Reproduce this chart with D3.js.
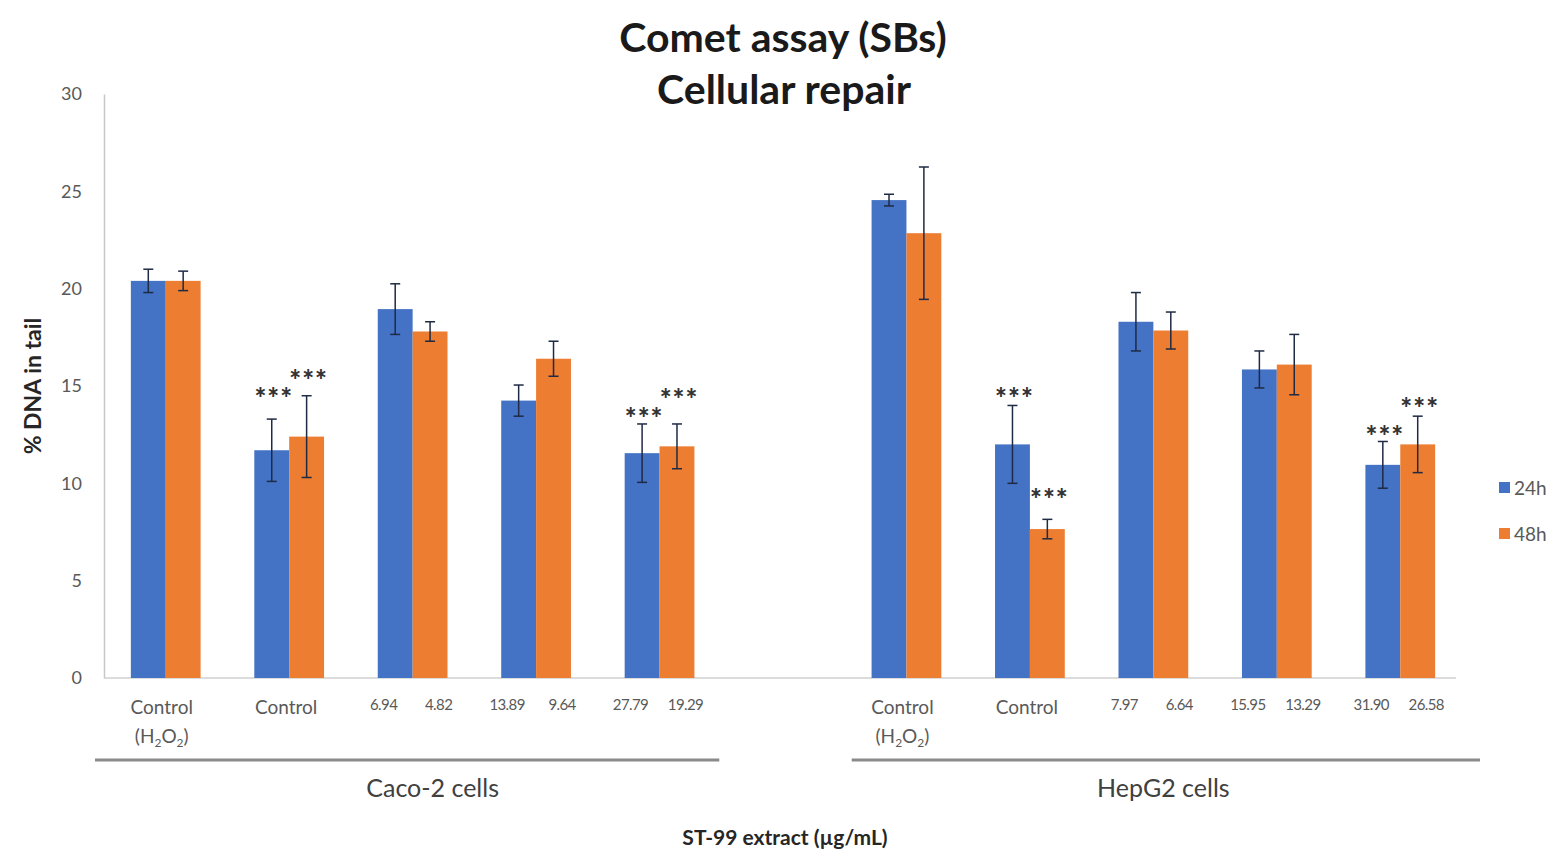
<!DOCTYPE html>
<html>
<head>
<meta charset="utf-8">
<script src="https://cdn.jsdelivr.net/npm/d3@7/dist/d3.min.js"></script>
<style>
  html, body { margin: 0; padding: 0; background: #fff; }
  svg { display: block; font-family: Lato, "Open Sans", sans-serif; }
</style>
</head>
<body>
<svg id="chart" width="1564" height="862"></svg>
<script>
// ---- data ----
const groups = ["Caco-2 cells", "HepG2 cells"];
const series = ["24h", "48h"];
const yTicks = [0, 5, 10, 15, 20, 25, 30];

// category kinds inside each group: two controls, then three doses
const categoryKinds = ["ctrlH2O2", "ctrl", "dose", "dose", "dose"];

// dose labels (µg/mL) printed under each bar
const cacoDose24 = [null, null, "6.94", "13.89", "27.79"];
const cacoDose48 = [null, null, "4.82", "9.64", "19.29"];
const hepDose24 = [null, null, "7.97", "15.95", "31.90"];
const hepDose48 = [null, null, "6.64", "13.29", "26.58"];

// % DNA in tail (mean) and error
const caco24 = [20.4, 11.7, 18.95, 14.25, 11.55];
const caco24Err = [0.6, 1.6, 1.3, 0.8, 1.5];
const caco48 = [20.4, 12.4, 17.8, 16.4, 11.9];
const caco48Err = [0.5, 2.1, 0.5, 0.9, 1.15];
const hep24 = [24.55, 12.0, 18.3, 15.85, 10.95];
const hep24Err = [0.3, 2.0, 1.5, 0.95, 1.2];
const hep48 = [22.85, 7.65, 17.85, 16.1, 12.0];
const hep48Err = [3.4, 0.5, 0.95, 1.55, 1.45];

// significance marks (***) and the level at which they are written
const caco24Sig = [null, 14.6, null, null, 13.55];
const caco48Sig = [null, 15.5, null, null, 14.55];
const hep24Sig = [null, 14.6, null, null, 12.65];
const hep48Sig = [null, 9.4, null, null, 14.05];

// ---- assemble rows: one slot per category, with an empty slot between groups ----
const groupData = [
  { name: groups[0], v: [caco24, caco48], e: [caco24Err, caco48Err], s: [caco24Sig, caco48Sig], d: [cacoDose24, cacoDose48] },
  { name: groups[1], v: [hep24, hep48], e: [hep24Err, hep48Err], s: [hep24Sig, hep48Sig], d: [hepDose24, hepDose48] }
];
const slots = [];
groupData.forEach((g, gi) => {
  categoryKinds.forEach((kind, ci) => {
    slots.push({
      key: gi + "-" + ci, group: gi, kind,
      bars: series.map((s, si) => ({
        series: s, value: g.v[si][ci], err: g.e[si][ci], sig: g.s[si][ci], dose: g.d[si][ci]
      }))
    });
  });
  if (gi === 0) slots.push({ key: "gap", group: -1, kind: "gap", bars: [] });
});

// ---- layout ----
const svg = d3.select("#chart");
const plot = { left: 104, right: 1462, top: 94, bottom: 678 };
const colors = { "24h": "#4472C4", "48h": "#ED7D31" };

const x0 = d3.scaleBand().domain(slots.map(d => d.key)).range([plot.left, plot.right]).padding(0);
const x1 = d3.scaleBand().domain(series).range([0, x0.bandwidth()]).paddingInner(0).paddingOuter(0.77);
const y = d3.scaleLinear().domain([0, 30]).range([plot.bottom, plot.top]);

// title
svg.append("text").attr("x", 783).attr("y", 52).attr("text-anchor", "middle")
  .attr("font-size", 41).attr("font-weight", 700).attr("fill", "#1a1a1a").text("Comet assay (SBs)");
svg.append("text").attr("x", 784).attr("y", 104).attr("text-anchor", "middle")
  .attr("font-size", 41).attr("font-weight", 700).attr("fill", "#1a1a1a").text("Cellular repair");

// y axis
const yAxis = d3.axisLeft(y).tickValues(yTicks).tickSize(0).tickPadding(22);
const yg = svg.append("g").attr("transform", `translate(${plot.left},0)`).call(yAxis);
yg.select(".domain").attr("stroke", "#c8c8c8").attr("stroke-width", 1.5);
yg.selectAll("text").attr("font-size", 18).attr("fill", "#595959").attr("font-family", "Lato, sans-serif");

// x baseline
svg.append("line").attr("x1", plot.left).attr("x2", plot.right - 6)
  .attr("y1", y(0)).attr("y2", y(0)).attr("stroke", "#d0d0d0").attr("stroke-width", 1.5);

// y title
svg.append("text").attr("transform", `translate(41,${(plot.top + plot.bottom) / 2}) rotate(-90)`)
  .attr("text-anchor", "middle").attr("font-size", 23).attr("font-weight", 700).attr("fill", "#262626")
  .text("% DNA in tail");

// bars
const slotG = svg.selectAll(".slot").data(slots.filter(d => d.kind !== "gap")).join("g")
  .attr("class", "slot").attr("transform", d => `translate(${x0(d.key)},0)`);

slotG.selectAll("rect").data(d => d.bars).join("rect")
  .attr("x", d => x1(d.series)).attr("width", x1.bandwidth())
  .attr("y", d => y(d.value)).attr("height", d => y(0) - y(d.value))
  .attr("fill", d => colors[d.series]);

// error bars
const eb = slotG.selectAll(".err").data(d => d.bars).join("g").attr("class", "err")
  .attr("transform", d => `translate(${x1(d.series) + x1.bandwidth() / 2},0)`);
eb.append("line").attr("y1", d => y(d.value + d.err)).attr("y2", d => y(d.value - d.err))
  .attr("stroke", "#1f2a44").attr("stroke-width", 1.5);
eb.append("line").attr("x1", -5).attr("x2", 5).attr("y1", d => y(d.value + d.err)).attr("y2", d => y(d.value + d.err))
  .attr("stroke", "#1f2a44").attr("stroke-width", 1.5);
eb.append("line").attr("x1", -5).attr("x2", 5).attr("y1", d => y(d.value - d.err)).attr("y2", d => y(d.value - d.err))
  .attr("stroke", "#1f2a44").attr("stroke-width", 1.5);

// significance stars
slotG.selectAll(".sig").data(d => d.bars.filter(b => b.sig != null)).join("text").attr("class", "sig")
  .attr("x", d => x1(d.series) + x1.bandwidth() / 2 + 2).attr("y", d => y(d.sig) + 14)
  .attr("text-anchor", "middle").attr("font-size", 28).attr("font-weight", 900).attr("fill", "#333")
  .attr("letter-spacing", 1).text("***");

// category labels
const labelColor = "#595959";
slotG.each(function (d) {
  const g = d3.select(this);
  const cx = x0.bandwidth() / 2;
  if (d.kind === "ctrlH2O2") {
    g.append("text").attr("x", cx - 4).attr("y", 714).attr("text-anchor", "middle")
      .attr("font-size", 19).attr("fill", labelColor).text("Control");
    const t = g.append("text").attr("x", cx - 4).attr("y", 743).attr("text-anchor", "middle")
      .attr("font-size", 19).attr("fill", labelColor);
    t.append("tspan").text("(H");
    t.append("tspan").attr("font-size", 12).attr("dy", 4).text("2");
    t.append("tspan").attr("dy", -4).text("O");
    t.append("tspan").attr("font-size", 12).attr("dy", 4).text("2");
    t.append("tspan").attr("dy", -4).text(")");
  } else if (d.kind === "ctrl") {
    g.append("text").attr("x", cx - 3).attr("y", 714).attr("text-anchor", "middle")
      .attr("font-size", 19).attr("fill", labelColor).text("Control");
  } else {
    d.bars.forEach((b, i) => {
      g.append("text").attr("x", cx + (i === 0 ? -29 : 26)).attr("y", 710).attr("text-anchor", "middle")
        .attr("font-size", 15).attr("letter-spacing", -0.6).attr("fill", labelColor).text(b.dose);
    });
  }
});

// group separators and labels
groupData.forEach((g, gi) => {
  const keys = slots.filter(s => s.group === gi).map(s => s.key);
  const xs = x0(keys[0]);
  const xe = x0(keys[keys.length - 1]) + x0.bandwidth();
  const a = gi === 0 ? xs - 9 : xs + 7;
  const b = gi === 0 ? xe - 2 : xe + 18;
  svg.append("line").attr("x1", a).attr("x2", b).attr("y1", 760).attr("y2", 760)
    .attr("stroke", "#8a8a8a").attr("stroke-width", 3);
  svg.append("text").attr("x", (xs + xe) / 2 + (gi === 0 ? 20 : 10)).attr("y", 797).attr("text-anchor", "middle")
    .attr("font-size", 25).attr("fill", "#404040").text(g.name);
});

// x title
svg.append("text").attr("x", 785).attr("y", 845).attr("text-anchor", "middle")
  .attr("font-size", 21).attr("font-weight", 700).attr("fill", "#262626").text("ST-99 extract (µg/mL)");

// legend
const leg = svg.append("g").attr("transform", "translate(1499,488)");
series.forEach((s, i) => {
  const row = leg.append("g").attr("transform", `translate(0,${i * 46})`);
  row.append("rect").attr("x", 0).attr("y", -6).attr("width", 11).attr("height", 11).attr("fill", colors[s]);
  row.append("text").attr("x", 15).attr("y", 7).attr("font-size", 19).attr("fill", "#595959").text(s);
});
</script>
</body>
</html>
